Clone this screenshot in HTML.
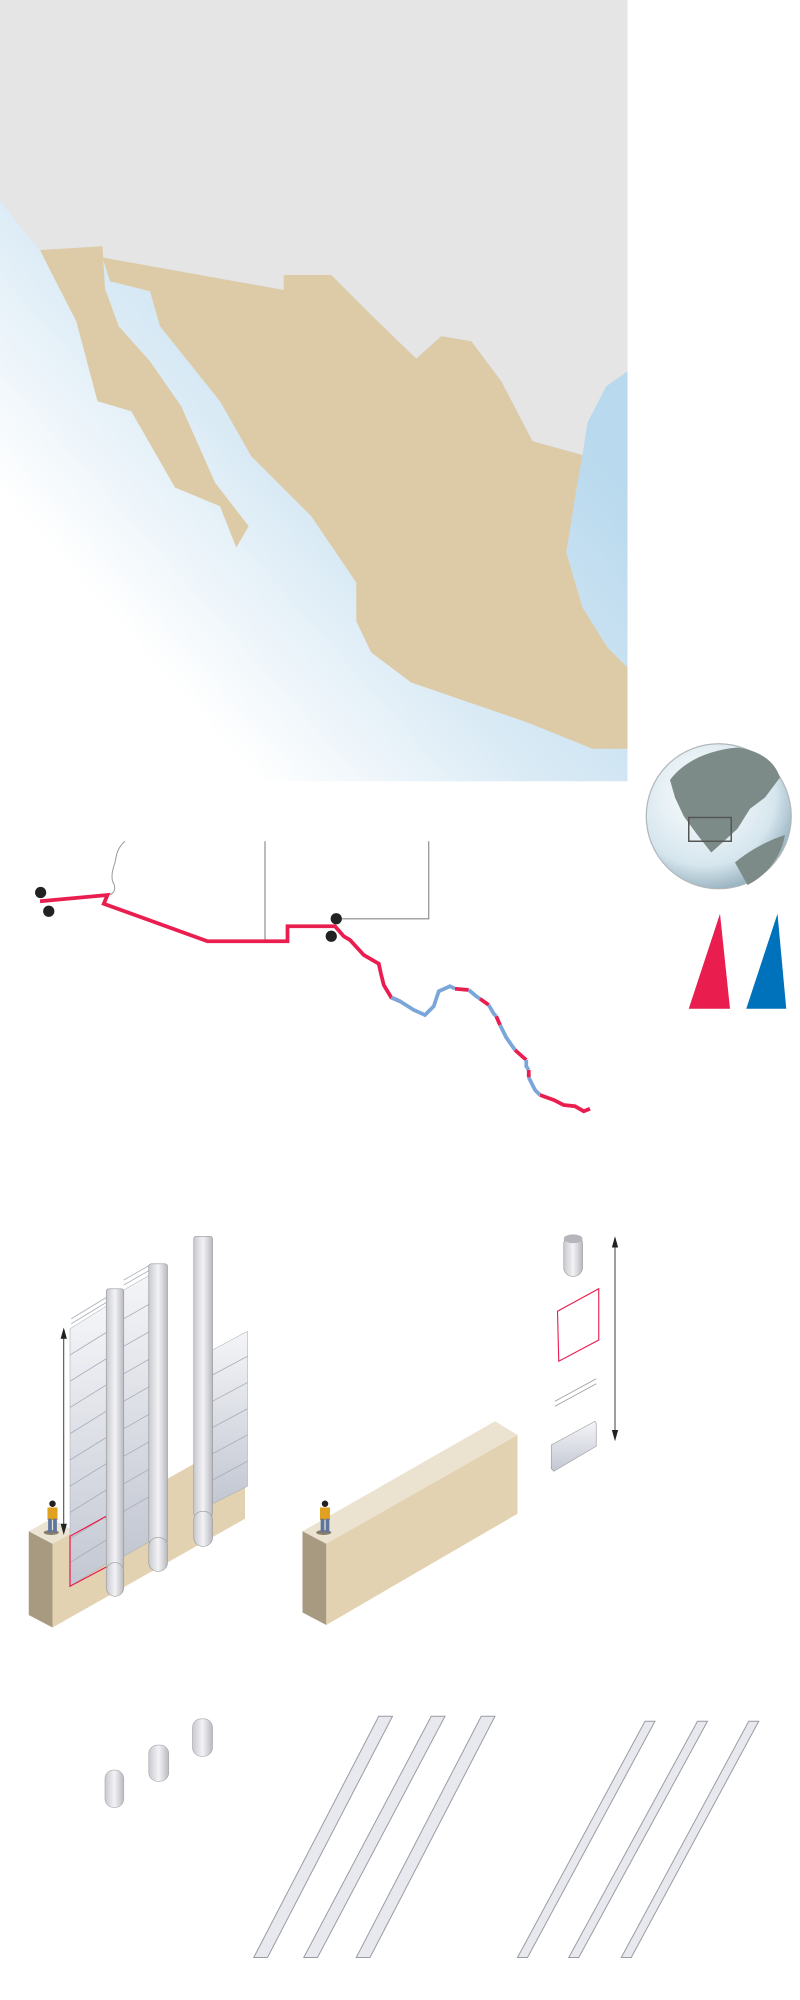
<!DOCTYPE html>
<html><head><meta charset="utf-8"><style>html,body{margin:0;padding:0;background:#fff;overflow:hidden}svg{display:block}</style></head>
<body>
<svg width="800" height="2000" viewBox="0 0 640 1600" xmlns="http://www.w3.org/2000/svg">
<defs>
<linearGradient id="sea" x1="0.75" y1="0.4" x2="0.3" y2="0.9">
<stop offset="0" stop-color="#b9d9ee"/><stop offset="0.55" stop-color="#d9eaf5"/><stop offset="1" stop-color="#ffffff"/></linearGradient>
<radialGradient id="glb" cx="0.4" cy="0.35" r="0.7"><stop offset="0" stop-color="#ffffff"/><stop offset="0.7" stop-color="#d6e6ee"/><stop offset="1" stop-color="#8eaab8"/></radialGradient>
<linearGradient id="pan" x1="0" y1="0" x2="0" y2="1"><stop offset="0" stop-color="#f4f5f8"/><stop offset="1" stop-color="#c3c7d2"/></linearGradient>
<linearGradient id="post" x1="0" y1="0" x2="1" y2="0"><stop offset="0" stop-color="#c8c9cf"/><stop offset="0.5" stop-color="#f3f3f6"/><stop offset="1" stop-color="#b8b9c0"/></linearGradient>
</defs>
<rect x="0" y="0" width="502" height="625" fill="url(#sea)"/>
<polygon points="0,0 502,0 502,297 485,309 470,338 466,364 426,353 401,305 377,273 353,269 333,287 297,252 265,220 227,220 227,232 82,206 82,197 32,200 18,184 0,160" fill="#e5e5e5"/>
<polygon points="32,200 82,197 84,231 95,261 120,289 145,325 172,386 199,421 189,438 176,405 140,390 105,329 78,321 61,257 40,216" fill="#ddcba8"/>
<polygon points="82,206 227,232 227,220 265,220 297,252 333,287 353,269 377,273 401,305 426,353 466,364 462,386 453,442 466,486 486,518 502,534 502,599 474,599 422,578 329,546 297,522 285,497 285,466 249,413 201,365 176,321 128,261 120,233 88,225" fill="#ddcba8"/>
<circle cx="575" cy="653" r="58" fill="url(#glb)" stroke="#b0b8bc" stroke-width="1"/>
<path d="M536,624 C547,609 567,600 590,598 C610,601 620,610 624,622 L612,638 L600,647 L590,663 L578,674 L569,682 L558,668 L547,653 L540,638 Z" fill="#7d8b88"/>
<path d="M588,690 C600,680 615,672 628,668 C625,685 614,700 598,708 Z" fill="#7d8b88"/>
<rect x="551" y="654" width="34" height="19" fill="none" stroke="#555" stroke-width="1.2"/>
<path d="M100,673 C94,678 93,684 92,690 C90,696 89,700 90,705 C93,710 92,714 88,716" fill="none" stroke="#999" stroke-width="0.8"/>
<path d="M212,673 V753 M343,673 V735 H270" fill="none" stroke="#888" stroke-width="0.9"/>
<polyline points="32,721 86,716 83,723 166,753 230,753 230,741 268,741 275,749 280,752 291,764 303,771 305,780 307,788 313,798 320,801" fill="none" stroke="#ea1d4f" stroke-width="3"/>
<polyline points="313,798 320,801 331,808 340,812 347,805 351,793 360,789 364,791" fill="none" stroke="#7aa6d9" stroke-width="3"/>
<polyline points="364,791 375,792" fill="none" stroke="#ea1d4f" stroke-width="3"/>
<polyline points="375,792 381,797 384,799" fill="none" stroke="#7aa6d9" stroke-width="3"/>
<polyline points="384,799 391,804" fill="none" stroke="#ea1d4f" stroke-width="3"/>
<polyline points="391,804 395,811 397,813" fill="none" stroke="#7aa6d9" stroke-width="3"/>
<polyline points="397,813 400,820" fill="none" stroke="#ea1d4f" stroke-width="3"/>
<polyline points="400,820 405,830 412,840" fill="none" stroke="#7aa6d9" stroke-width="3"/>
<polyline points="412,840 421,848" fill="none" stroke="#ea1d4f" stroke-width="3"/>
<polyline points="421,848 421,853 423,856" fill="none" stroke="#7aa6d9" stroke-width="3"/>
<polyline points="423,856 423,862" fill="none" stroke="#ea1d4f" stroke-width="3"/>
<polyline points="423,862 428,872 432,876" fill="none" stroke="#7aa6d9" stroke-width="3"/>
<polyline points="432,876 443,880 451,884 460,885 467,889 472,887" fill="none" stroke="#ea1d4f" stroke-width="3"/>
<circle cx="32.5" cy="714" r="4.5" fill="#222"/><circle cx="39" cy="729" r="4.5" fill="#222"/>
<circle cx="269" cy="735" r="4.5" fill="#222"/><circle cx="265" cy="749" r="4.5" fill="#222"/>
<polygon points="576,731 584,807 551,807" fill="#ea1d4f"/>
<polygon points="622,731 629,807 597,807" fill="#0072bb"/>
<!-- left wall -->
<polygon points="42,1235 196,1148 196,1215 42,1302" fill="#e3d2b2"/>
<polygon points="23,1225 42,1235 42,1302 23,1292" fill="#a89a80"/>
<polygon points="23,1225 42,1235 60,1225 41,1215" fill="#ece4d2"/>
<g fill="url(#pan)" stroke="#9aa" stroke-width="0.4">
<polygon points="56,1063 85,1045 85,1251 56,1269"/>
<polygon points="99,1032 120,1020 120,1233 99,1245"/>
<polygon points="170,1080 198,1065 198,1189 170,1203"/>
</g>
<g stroke="#a8adb8" stroke-width="0.6">
<path d="M56,1084 L85,1066 M56,1105 L85,1087 M56,1126 L85,1108 M56,1147 L85,1129 M56,1168 L85,1150 M56,1189 L85,1171 M56,1210 L85,1192 M56,1231 L85,1213 M56,1250 L85,1232"/>
<path d="M99,1055 L120,1043 M99,1077 L120,1065 M99,1099 L120,1087 M99,1121 L120,1109 M99,1143 L120,1131 M99,1165 L120,1153 M99,1187 L120,1175 M99,1209 L120,1197"/>
<path d="M170,1100 L198,1085 M170,1121 L198,1106 M170,1142 L198,1127 M170,1163 L198,1148 M170,1184 L198,1169"/>
<path d="M57,1055 L85,1038 M57,1059 L85,1042 M99,1024 L120,1012 M99,1028 L120,1016"/>
</g>
<polygon points="56,1229 85,1213 88,1252 56,1269" fill="none" stroke="#ea1d4f" stroke-width="1"/>
<g fill="url(#post)" stroke="#999" stroke-width="0.5">
<rect x="85" y="1031" width="14" height="224" rx="2"/><rect x="85" y="1250" width="14" height="27" rx="7"/>
<rect x="119" y="1011" width="15" height="224" rx="2"/><rect x="119" y="1230" width="15" height="27" rx="7"/>
<rect x="155" y="989" width="15" height="224" rx="2"/><rect x="155" y="1209" width="15" height="28" rx="7"/>
</g>
<path d="M51,1066 V1224" stroke="#222" stroke-width="0.7"/>
<polygon points="51,1062 48.5,1071 53.5,1071" fill="#222"/><polygon points="51,1228 48.5,1219 53.5,1219" fill="#222"/>
<ellipse cx="41" cy="1226" rx="6" ry="2" fill="#8a7d68"/>
<rect x="38" y="1206" width="8" height="10" fill="#e0a020"/><rect x="38.5" y="1215" width="3" height="11" fill="#5d76a0"/><rect x="42.5" y="1215" width="3" height="11" fill="#5d76a0"/><circle cx="42" cy="1203" r="2.6" fill="#222"/>
<!-- right wall -->
<polygon points="242,1225 261,1235 414,1148 396,1137" fill="#ece2d0"/>
<polygon points="261,1235 414,1148 414,1211 261,1300" fill="#e3d2b2"/>
<polygon points="242,1225 261,1235 261,1300 242,1290" fill="#a89a80"/>
<ellipse cx="259" cy="1226" rx="6" ry="2" fill="#8a7d68"/>
<rect x="256" y="1206" width="8" height="10" fill="#e0a020"/><rect x="256.5" y="1215" width="3" height="11" fill="#5d76a0"/><rect x="260.5" y="1215" width="3" height="11" fill="#5d76a0"/><circle cx="260" cy="1203" r="2.6" fill="#222"/>
<!-- components -->
<rect x="451" y="988" width="15" height="33" rx="7" fill="url(#post)" stroke="#999" stroke-width="0.5"/>
<ellipse cx="458.5" cy="991" rx="7.5" ry="3.5" fill="#b5b6bb"/>
<polygon points="446,1049 479,1031 479,1072 447,1089" fill="none" stroke="#ea1d4f" stroke-width="0.9"/>
<path d="M444,1121 L477,1103 M444,1125 L477,1107" stroke="#999" stroke-width="0.6"/>
<polygon points="441,1156 476,1137 477,1139 477,1157 443,1177 441,1175" fill="url(#pan)" stroke="#999" stroke-width="0.5"/>
<path d="M492,993 V1149" stroke="#222" stroke-width="0.7"/>
<polygon points="492,989 489.5,998 494.5,998" fill="#222"/><polygon points="492,1153 489.5,1144 494.5,1144" fill="#222"/>
<!-- bottom -->
<g fill="url(#post)" stroke="#aaa" stroke-width="0.5">
<rect x="84" y="1416" width="15" height="30" rx="7"/>
<rect x="119" y="1396" width="16" height="29" rx="7"/>
<rect x="154" y="1375" width="16" height="30" rx="7"/>
</g>
<g fill="#e8e9ee" stroke="#9a9ca4" stroke-width="0.8">
<polygon points="303,1373 314,1373 214,1566 203,1566"/>
<polygon points="345,1373 356,1373 254,1566 243,1566"/>
<polygon points="385,1373 396,1373 296,1566 285,1566"/>
<polygon points="516,1377 524,1377 422,1566 414,1566"/>
<polygon points="558,1377 566,1377 463,1566 455,1566"/>
<polygon points="599,1377 607,1377 505,1566 497,1566"/>
</g>
</svg>
</body></html>
